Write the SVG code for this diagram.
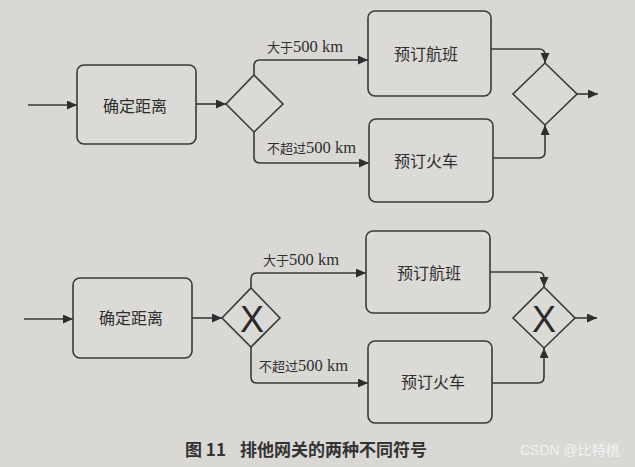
<svg xmlns="http://www.w3.org/2000/svg" width="635" height="467" viewBox="0 0 635 467">
<defs>
<marker id="arr" markerUnits="userSpaceOnUse" markerWidth="10" markerHeight="9" refX="10" refY="4.5" orient="auto">
<path d="M0,0 L10,4.5 L0,9 Z" fill="#2e2e2e"/>
</marker>
<style>
.bg{fill:#dad8d5}
.box{fill:#dcdad7;stroke:#3a3a3a;stroke-width:1.6}
.gw{fill:#dcdad7;stroke:#3a3a3a;stroke-width:1.6}
.ln{fill:none;stroke:#3a3a3a;stroke-width:1.6;marker-end:url(#arr)}
.lbl{font-family:"Liberation Serif","Noto Sans CJK SC",serif;font-size:16px;fill:#2e2e2e;text-anchor:middle;dominant-baseline:central}
.edge{font-family:"Liberation Serif","Noto Sans CJK SC",serif;font-size:13px;fill:#2e2e2e}
.lat{font-size:16.5px}
.x{font-family:"Liberation Sans",Arial,sans-serif;font-size:36px;fill:#2a2a2a;text-anchor:middle;dominant-baseline:central}
.cap{font-family:"Noto Sans CJK SC",sans-serif;font-size:17px;font-weight:bold;fill:#333}
.wm{font-family:"Liberation Sans","Noto Sans CJK SC",sans-serif;font-size:14px;fill:#f2f2f2}
</style>
</defs>
<rect class="bg" x="0" y="0" width="635" height="467"/>

<g id="connectors">
<path class="ln" d="M28,105 H77"/>
<path class="ln" d="M196,104 H226"/>
<path class="ln" d="M254,75 V66 Q254,60 260,60 H368"/>
<path class="ln" d="M254,132 V157 Q254,163 260,163 H369"/>
<path class="ln" d="M491,49 H539 Q545,49 545,55 V63"/>
<path class="ln" d="M493,158 H539 Q545,158 545,152 V125"/>
<path class="ln" d="M577,94 H598"/>

<path class="ln" d="M24,319 H73"/>
<path class="ln" d="M192,318 H222"/>
<path class="ln" d="M251,288 V279 Q251,273 257,273 H366"/>
<path class="ln" d="M251,347 V377 Q251,383 257,383 H368"/>
<path class="ln" d="M490,272 H538 Q544,272 544,278 V287"/>
<path class="ln" d="M492,383 H538 Q544,383 544,377 V348"/>
<path class="ln" d="M575,318 H597"/>

<text class="edge" x="267" y="52">大于<tspan class="lat">500 km</tspan></text>
<text class="edge" x="267" y="153">不超过<tspan class="lat">500 km</tspan></text>
<text class="edge" x="263" y="265">大于<tspan class="lat">500 km</tspan></text>
<text class="edge" x="259" y="371">不超过<tspan class="lat">500 km</tspan></text>
</g>

<g id="t-determine">
<rect class="box" x="77" y="65" width="119" height="79" rx="7"/>
<text class="lbl" x="135" y="106">确定距离</text>
</g>
<g id="t-gw-split">
<polygon class="gw" points="254,75 283,104 254,132 226,104"/>
</g>
<g id="t-flight">
<rect class="box" x="368" y="11" width="123" height="85" rx="7"/>
<text class="lbl" x="426" y="54">预订航班</text>
</g>
<g id="t-train">
<rect class="box" x="369" y="119" width="124" height="83" rx="7"/>
<text class="lbl" x="426" y="161">预订火车</text>
</g>
<g id="t-gw-join">
<polygon class="gw" points="545,63 577,94 545,125 513,94"/>
</g>

<g id="b-determine">
<rect class="box" x="73" y="278" width="119" height="80" rx="7"/>
<text class="lbl" x="131" y="318">确定距离</text>
</g>
<g id="b-gw-split">
<polygon class="gw" points="251,288 280,318 251,347 222,318"/>
<text class="x" x="252" y="319">X</text>
</g>
<g id="b-flight">
<rect class="box" x="366" y="231" width="124" height="82" rx="7"/>
<text class="lbl" x="429" y="273">预订航班</text>
</g>
<g id="b-train">
<rect class="box" x="368" y="341" width="124" height="82" rx="7"/>
<text class="lbl" x="433" y="382">预订火车</text>
</g>
<g id="b-gw-join">
<polygon class="gw" points="544,287 575,318 544,348 513,318"/>
<text class="x" x="544" y="319">X</text>
</g>

<g id="caption">
<text class="cap" x="185" y="456">图 11<tspan x="240">排他网关的两种不同符号</tspan></text>
<text class="wm" x="520" y="455">CSDN @比特桃</text>
</g>
</svg>
